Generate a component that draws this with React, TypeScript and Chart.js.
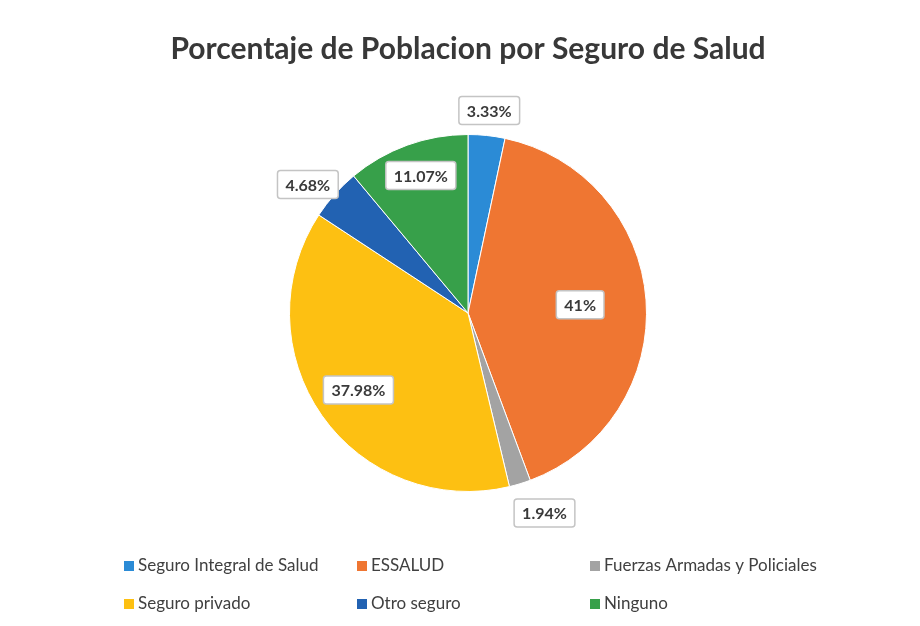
import React, { useEffect, useRef } from "react";
import { Chart, registerables } from "chart.js";

Chart.register(...registerables);

const categories = [
  "Seguro Integral de Salud",
  "ESSALUD",
  "Fuerzas Armadas y Policiales",
  "Seguro privado",
  "Otro seguro",
  "Ninguno",
];
const percentages = [3.33, 41, 1.94, 37.98, 4.68, 11.07];
const sliceColors = ["#2b8bd6", "#ef7632", "#a3a3a3", "#fdc012", "#2262b2", "#37a04a"];
const chartTitle = "Porcentaje de Poblacion por Seguro de Salud";

const FONT = "Lato, 'Open Sans', sans-serif";

// label placement (styling): radial factor and angular nudge in degrees
const labelRadialFactor = [1.14, 0.63, 1.2, 0.75, 1.15, 0.815];
const labelAngleNudge = [0, 0, -4, 0, -3, 1];

const labelPlugin = {
  id: "boxLabels",
  afterDatasetsDraw(chart: any) {
    const ctx = chart.ctx;
    const meta = chart.getDatasetMeta(0);
    const data = chart.data.datasets[0].data as number[];
    ctx.save();
    ctx.font = `bold 16px ${FONT}`;
    ctx.textAlign = "center";
    ctx.textBaseline = "middle";
    meta.data.forEach((arc: any, i: number) => {
      const p = arc.getProps(["x", "y", "startAngle", "endAngle", "outerRadius"], true);
      const mid = (p.startAngle + p.endAngle) / 2 + (labelAngleNudge[i] * Math.PI) / 180;
      const f = labelRadialFactor[i];
      const cx = p.x + Math.cos(mid) * p.outerRadius * f;
      const cy = p.y + Math.sin(mid) * p.outerRadius * f;
      const text = `${data[i]}%`;
      const w = ctx.measureText(text).width + 16;
      const h = 28;
      ctx.fillStyle = "#ffffff";
      ctx.strokeStyle = "#c4c4c4";
      ctx.lineWidth = 1.5;
      ctx.beginPath();
      (ctx as any).roundRect(cx - w / 2, cy - h / 2, w, h, 3);
      ctx.fill();
      ctx.stroke();
      ctx.fillStyle = "#3a3a3a";
      ctx.fillText(text, cx, cy + 1);
    });
    ctx.restore();
  },
};

const legendCols = [124, 357, 590];
const legendRows = [566, 604];

const legendPlugin = {
  id: "gridLegend",
  afterDraw(chart: any) {
    const ctx = chart.ctx;
    const labels = chart.data.labels as string[];
    const colors = chart.data.datasets[0].backgroundColor as string[];
    ctx.save();
    ctx.font = `17px ${FONT}`;
    ctx.textAlign = "left";
    ctx.textBaseline = "middle";
    labels.forEach((lab, i) => {
      const x = legendCols[i % 3];
      const y = legendRows[Math.floor(i / 3)];
      ctx.fillStyle = colors[i];
      ctx.fillRect(x, y - 5, 10, 10);
      ctx.fillStyle = "#404040";
      ctx.fillText(lab, x + 14, y);
    });
    ctx.restore();
  },
};

export default function App() {
  const ref = useRef<HTMLCanvasElement>(null);
  useEffect(() => {
    document.body.style.margin = "0";
    document.body.style.background = "#ffffff";
    const chart = new Chart(ref.current!, {
      type: "pie",
      data: {
        labels: categories,
        datasets: [
          {
            data: percentages,
            backgroundColor: sliceColors,
            borderColor: "#ffffff",
            borderWidth: 1,
          },
        ],
      },
      options: {
        responsive: false,
        animation: false,
        layout: { padding: { top: 0, bottom: 134, left: 16, right: 0 } },
        plugins: {
          legend: { display: false },
          tooltip: { enabled: false },
          title: {
            display: true,
            text: chartTitle,
            color: "#383838",
            font: { family: FONT, size: 30, weight: "bold", lineHeight: 1.2 },
            padding: { top: 31, bottom: 67 },
          },
        },
      },
      plugins: [labelPlugin, legendPlugin],
    });
    return () => chart.destroy();
  }, []);
  return (
    <div style={{ width: 920, height: 626, background: "#fff" }}>
      <canvas ref={ref} width={920} height={626} style={{ display: "block" }} />
    </div>
  );
}
